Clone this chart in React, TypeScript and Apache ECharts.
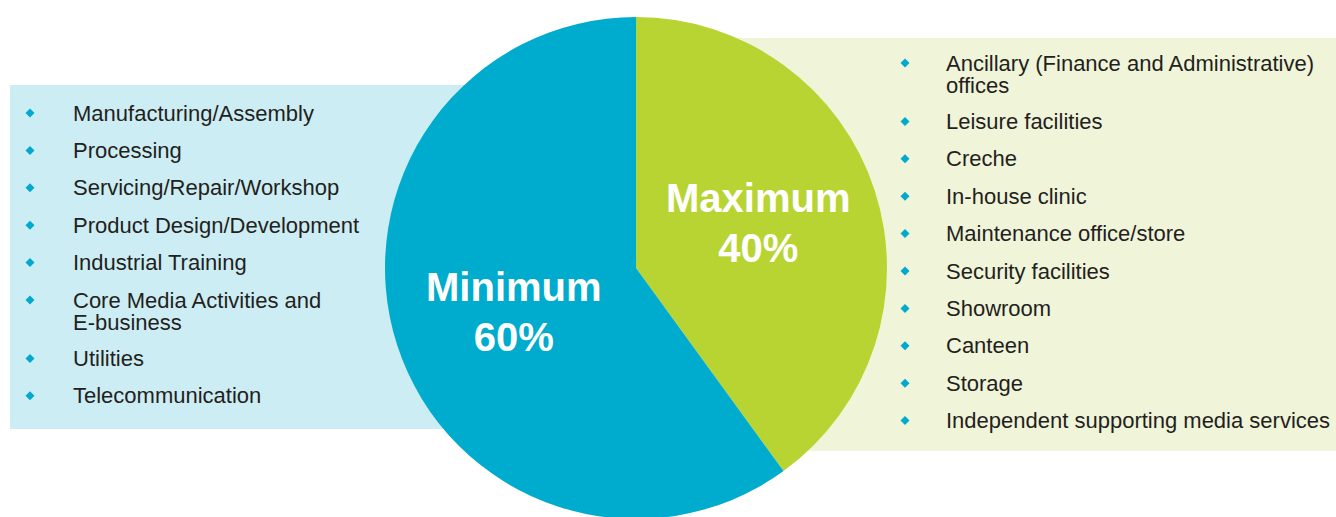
import React, { useEffect, useRef } from "react";
import * as echarts from "echarts";

const sliceNames = ["Maximum", "Minimum"];
const sliceValues = [40, 60];
const sliceColors = ["#B8D433", "#00ACCD"];

const minimumItems = [
  "Manufacturing/Assembly",
  "Processing",
  "Servicing/Repair/Workshop",
  "Product Design/Development",
  "Industrial Training",
  "Core Media Activities and\nE-business",
  "Utilities",
  "Telecommunication",
];

const maximumItems = [
  "Ancillary (Finance and Administrative)\noffices",
  "Leisure facilities",
  "Creche",
  "In-house clinic",
  "Maintenance office/store",
  "Security facilities",
  "Showroom",
  "Canteen",
  "Storage",
  "Independent supporting media services",
];

const W = 1336;
const H = 517;
const FONT = "'Liberation Sans', Arial, Helvetica, sans-serif";
const LINE_H = 22.5;
const GAP = 37.4;

function buildList(items: string[], startY: number, bulletX: number, textX: number) {
  const els: any[] = [];
  let y = startY;
  items.forEach((it) => {
    const lines = it.split("\n");
    els.push({
      type: "polygon",
      shape: {
        points: [
          [bulletX, y - 4.5],
          [bulletX + 4.5, y],
          [bulletX, y + 4.5],
          [bulletX - 4.5, y],
        ],
      },
      style: { fill: "#00A9D0" },
    });
    lines.forEach((ln, k) => {
      els.push({
        type: "text",
        x: textX,
        y: y + k * LINE_H,
        style: {
          text: ln,
          fill: "#231F20",
          font: `22px ${FONT}`,
          verticalAlign: "middle",
          align: "left",
        },
      });
    });
    y += (lines.length - 1) * 21 + GAP;
  });
  return els;
}

export default function App() {
  const ref = useRef<HTMLDivElement>(null);
  useEffect(() => {
    if (!ref.current) return;
    const chart = echarts.init(ref.current, null, { renderer: "svg" });
    chart.setOption({
      animation: false,
      backgroundColor: "#ffffff",
      graphic: [
        {
          type: "rect",
          z: -10,
          shape: { x: 10, y: 85, width: 640, height: 344 },
          style: { fill: "#CDEDF4" },
        },
        {
          type: "rect",
          z: -10,
          shape: { x: 640, y: 38, width: W - 640, height: 413 },
          style: { fill: "#F0F4D9" },
        },
        ...buildList(minimumItems, 113, 30, 73),
        ...buildList(maximumItems, 63, 905, 946),
      ],
      series: [
        {
          type: "pie",
          center: [636, 268],
          radius: [0, 251],
          startAngle: 90,
          clockwise: true,
          silent: true,
          z: 5,
          label: {
            show: true,
            position: "inside",
            formatter: (p: any) => `${p.name}\n${p.value}%`,
            color: "#ffffff",
            fontFamily: FONT,
            fontWeight: "bold",
            fontSize: 40,
            lineHeight: 50,
          },
          labelLine: { show: false },
          itemStyle: { borderWidth: 0 },
          data: sliceNames.map((n, i) => ({
            name: n,
            value: sliceValues[i],
            itemStyle: { color: sliceColors[i] },
            label: { offset: i === 0 ? [0, -5] : [0, 4] },
          })),
        },
      ],
    });
    return () => chart.dispose();
  }, []);
  return (
    <div
      ref={ref}
      style={{ position: "absolute", left: 0, top: 0, width: W, height: H }}
    />
  );
}
